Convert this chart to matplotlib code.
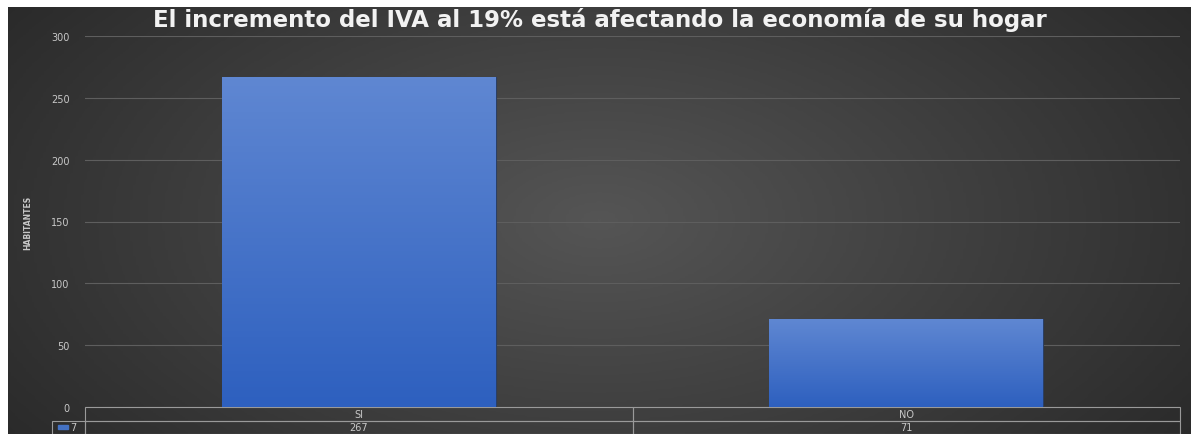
import numpy as np
import matplotlib
matplotlib.use('Agg')
import matplotlib.pyplot as plt
from matplotlib.patches import Rectangle

# data
categories = ['SI', 'NO']
values = [267, 71]
series_name = '7'
title = 'El incremento del IVA al 19% está afectando la economía de su hogar'
y_ticks = [0, 50, 100, 150, 200, 250, 300]

txt_col = '#c8c8c8'
grid_col = '#5e5e5e'
line_col = '#9a9a9a'

fig = plt.figure(figsize=(11.91, 4.35), dpi=100)
fig.patch.set_facecolor('white')

# dark radial background (starts 8px in from top/left)
W, H = 1191, 435
bg = fig.add_axes([8 / W, 0, 1 - 8 / W, 1 - 8 / H], zorder=-5)
yy, xx = np.mgrid[-1:1:200j, -1:1:400j]
r = np.sqrt((xx * 0.9) ** 2 + (yy * 0.6) ** 2)
bg.imshow(r, cmap=matplotlib.colors.LinearSegmentedColormap.from_list('bg', ['#555555', '#2a2a2a']),
          aspect='auto', extent=[0, 1, 0, 1], vmin=0, vmax=1.1)
bg.axis('off')

# main axes
left, right, bottom, top = 85 / W, 1180 / W, 1 - 408 / H, 1 - 37 / H
ax = fig.add_axes([left, bottom, right - left, top - bottom])
ax.patch.set_alpha(0)

x = np.arange(len(categories))
bars = ax.bar(x, values, width=0.5, color='#4472c4', edgecolor='#2a3f66', linewidth=0.8, zorder=3)

# vertical gradient on bars
grad = np.linspace(0, 1, 100).reshape(-1, 1)
cm = matplotlib.colors.LinearSegmentedColormap.from_list('bar', ['#2e60bf', '#5f87d2'])
for b in bars:
    im = ax.imshow(grad, cmap=cm, aspect='auto', origin='lower',
                   extent=[b.get_x(), b.get_x() + b.get_width(), 0, b.get_height()], zorder=4)
    im.set_clip_path(b)

ax.set_xlim(-0.5, len(categories) - 0.5)
ax.set_ylim(0, 300)
ax.set_yticks(y_ticks)
ax.set_yticklabels([str(t) for t in y_ticks], color=txt_col, fontsize=7)
ax.tick_params(axis='y', length=0, pad=11)
ax.set_xticks([])
ax.grid(axis='y', color=grid_col, linewidth=0.8, zorder=0)
for s in ax.spines.values():
    s.set_visible(False)

ax.set_ylabel('HABITANTES', color=txt_col, fontsize=5.5, fontweight='bold')
ax.yaxis.set_label_coords(-0.048, 0.5)

fig.text(0.504, 1 - 20 / H, title, ha='center', va='center', color='#f2f2f2',
         fontsize=16.5, fontweight='bold')

# data table under the chart
tbl = ax.table(cellText=[[str(v) for v in values]], colLabels=categories,
               cellLoc='center', bbox=[0, -27 / 371, 1, 27 / 371])
tbl.auto_set_font_size(False)
for (r_, c_), cell in tbl.get_celld().items():
    cell.set_facecolor('none')
    cell.set_edgecolor(line_col)
    cell.set_linewidth(0.8)
    cell.get_text().set_color(txt_col)
    cell.get_text().set_fontsize(7)

# row label cell with legend key (left of the value row)
cw, ch = 33 / 1095, 13.5 / 371
ax.add_patch(Rectangle((-cw, -27 / 371), cw, ch, transform=ax.transAxes, facecolor='none',
                       edgecolor=line_col, linewidth=0.8, clip_on=False, zorder=6))
ax.add_patch(Rectangle((-cw + 6 / 1095, -22 / 371), 10 / 1095, 4 / 371,
                       transform=ax.transAxes, color='#4472c4', clip_on=False, zorder=6))
ax.text(-cw + 18 / 1095, -20 / 371, series_name, transform=ax.transAxes, color=txt_col,
        fontsize=7, ha='left', va='center')

fig.savefig('out.png', dpi=100)
